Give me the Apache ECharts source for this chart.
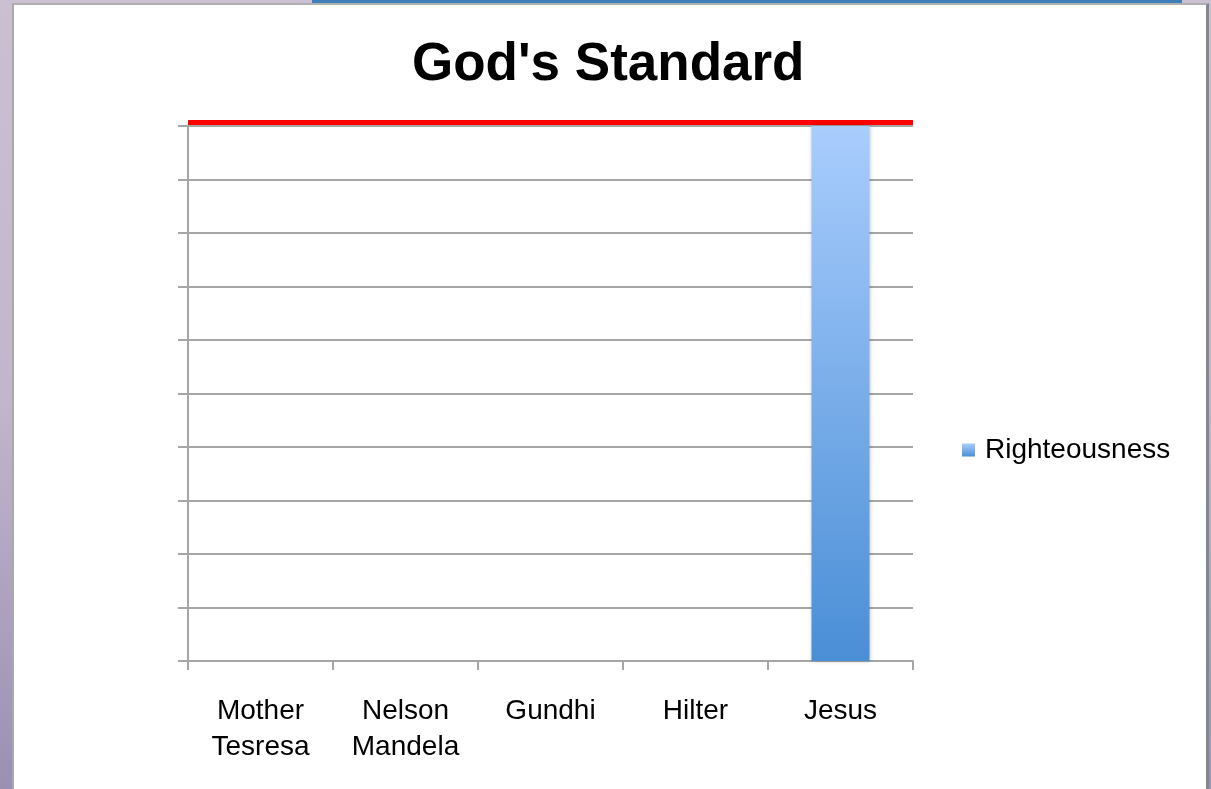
<!DOCTYPE html>
<html>
<head>
<meta charset="utf-8">
<script src="https://cdn.jsdelivr.net/npm/echarts@6/dist/echarts.min.js"></script>
<style>
  html, body { margin: 0; padding: 0; width: 1211px; height: 789px; overflow: hidden; }
  body { background: linear-gradient(180deg, #cbbfd2 0%, #c2b6cc 50%, #9a90b2 100%); position: relative; }
  .strip { position: absolute; left: 312px; top: 0; width: 870px; height: 4px; background: #3f7fb8; }
  .panel { position: absolute; left: 12px; top: 3px; width: 1192px; height: 790px; background: #fff;
           border-left: 2px solid #a9a9a9; border-top: 2px solid #b0b0b0; border-right: 3px solid #7f8a8e; }
  #chart { position: absolute; left: 0; top: 0; width: 1211px; height: 789px; }
</style>
</head>
<body>
<div class="strip"></div>
<div class="panel"></div>
<div id="chart"></div>
<script>
// chart values
const categories = ['Mother\nTesresa', 'Nelson\nMandela', 'Gundhi', 'Hilter', 'Jesus'];
const righteousness = [0, 0, 0, 0, 10];
const seriesName = 'Righteousness';
const titleText = "God's Standard";

const font = "'Liberation Sans', Arial, Helvetica, sans-serif";
const gridGray = '#a6a6a6';

const chart = echarts.init(document.getElementById('chart'), null, { renderer: 'canvas' });

chart.setOption({
    backgroundColor: 'transparent',
    animation: false,
    title: {
        text: titleText,
        left: 407,
        top: 34,
        textStyle: { fontFamily: font, fontSize: 53, fontWeight: 'bold', color: '#000' }
    },
    legend: {
        data: [seriesName],
        left: 957,
        top: 431,
        icon: 'rect',
        itemWidth: 13,
        itemHeight: 13,
        itemGap: 10,
        textStyle: { fontFamily: font, fontSize: 28, color: '#000', padding: [0, 0, 0, 5] }
    },
    grid: { left: 188, right: 298, top: 126, bottom: 128, containLabel: false },
    xAxis: [
        {
            type: 'category',
            data: categories,
            axisLine: { lineStyle: { color: gridGray, width: 2 } },
            axisTick: { show: true, length: 9, lineStyle: { color: gridGray, width: 2 } },
            axisLabel: {
                fontFamily: font, fontSize: 28, color: '#000', lineHeight: 36,
                margin: 32, interval: 0
            }
        },
        {
            // red "standard" line along the top of the plot
            type: 'category',
            position: 'top',
            offset: 4,
            data: categories,
            axisLine: { show: true, lineStyle: { color: '#ff0000', width: 5, cap: 'butt' } },
            axisTick: { show: false },
            axisLabel: { show: false }
        }
    ],
    yAxis: {
        type: 'value',
        min: 0,
        max: 10,
        interval: 1,
        axisLine: { show: true, lineStyle: { color: gridGray, width: 2 } },
        axisTick: { show: true, length: 10, lineStyle: { color: gridGray, width: 2 } },
        axisLabel: { show: false },
        splitLine: { show: true, lineStyle: { color: gridGray, width: 2 } }
    },
    series: [
        {
            name: seriesName,
            type: 'bar',
            data: righteousness,
            barWidth: '40%',
            itemStyle: {
                color: new echarts.graphic.LinearGradient(0, 0, 0, 1, [
                    { offset: 0, color: '#a9cdfd' },
                    { offset: 1, color: '#4a8ed6' }
                ]),
                shadowBlur: 4,
                shadowColor: 'rgba(0,0,0,0.25)'
            }
        }
    ]
});
</script>
</body>
</html>
